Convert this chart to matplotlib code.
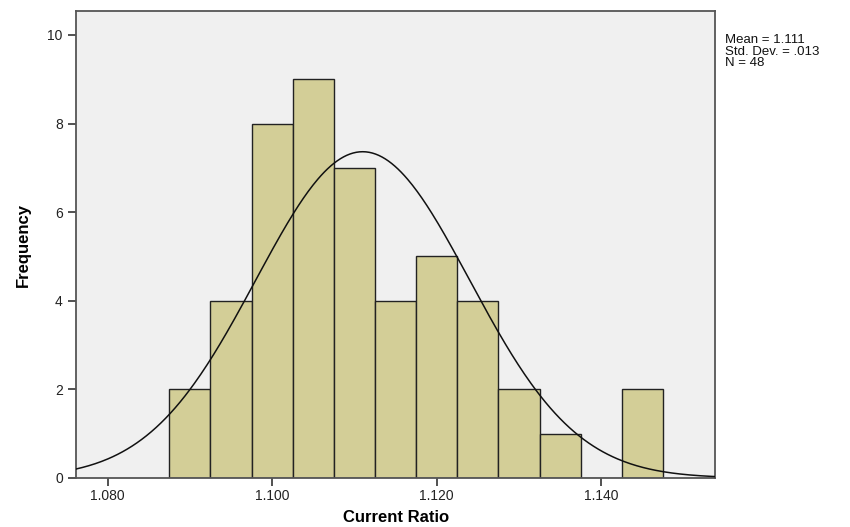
import numpy as np
import matplotlib.pyplot as plt

# ──────────────────────────────────────────────
# Data
# ──────────────────────────────────────────────
BIN_EDGES = [1.0875, 1.0925, 1.0975, 1.1025, 1.1075, 1.1125, 1.1175,
             1.1225, 1.1275, 1.1325, 1.1375, 1.1425, 1.1475]
COUNTS    = [2, 4, 8, 9, 7, 4, 5, 4, 2, 1, 0, 2]

MEAN = 1.111
STD  = 0.013
N    = 48

X_TICKS  = [1.080, 1.100, 1.120, 1.140]
X_LABELS = ["1.080", "1.100", "1.120", "1.140"]
Y_TICKS  = [0, 2, 4, 6, 8, 10]

BAR_COLOR = "#D3CE97"
BG_COLOR  = "#F0F0F0"

plt.rcParams["font.family"] = ["Liberation Sans", "DejaVu Sans"]

fig = plt.figure(figsize=(8.5, 5.27), dpi=100)
ax = fig.add_axes([0.0894, 0.093, 0.752, 0.886])
ax.set_facecolor(BG_COLOR)

edges = np.array(BIN_EDGES)
widths = np.diff(edges)
ax.bar(edges[:-1], COUNTS, width=widths, align="edge",
       color=BAR_COLOR, edgecolor="#222222", linewidth=1.0, zorder=2)

# normal curve scaled to counts
xlim = (1.07615, 1.15385)
xs = np.linspace(xlim[0], xlim[1], 400)
bw = widths[0]
ys = N * bw / (STD * np.sqrt(2 * np.pi)) * np.exp(-0.5 * ((xs - MEAN) / STD) ** 2)
ax.plot(xs, ys, color="#111111", linewidth=1.1, zorder=3)

ax.set_xlim(*xlim)
ax.set_ylim(0, 10.54)
ax.set_xticks(X_TICKS)
ax.set_xticklabels(X_LABELS)
ax.set_yticks(Y_TICKS)
ax.tick_params(direction="out", length=6, width=1.2, labelsize=10,
               color="#333333", labelcolor="#222222")
ax.tick_params(axis="x", pad=2)

for sp in ax.spines.values():
    sp.set_color("#555555")
    sp.set_linewidth(1.3)

ax.set_xlabel("Current Ratio", fontsize=12, fontweight="bold", labelpad=5)
ax.set_ylabel("Frequency", fontsize=12, fontweight="bold", labelpad=12,
              fontstretch="condensed")

fig.text(0.853, 0.935, f"Mean = {MEAN:.3f}\nStd. Dev. = .013\nN = {N}",
         fontsize=9.5, va="top", ha="left", linespacing=0.95, color="#111111")

fig.savefig("out.png", dpi=100)
